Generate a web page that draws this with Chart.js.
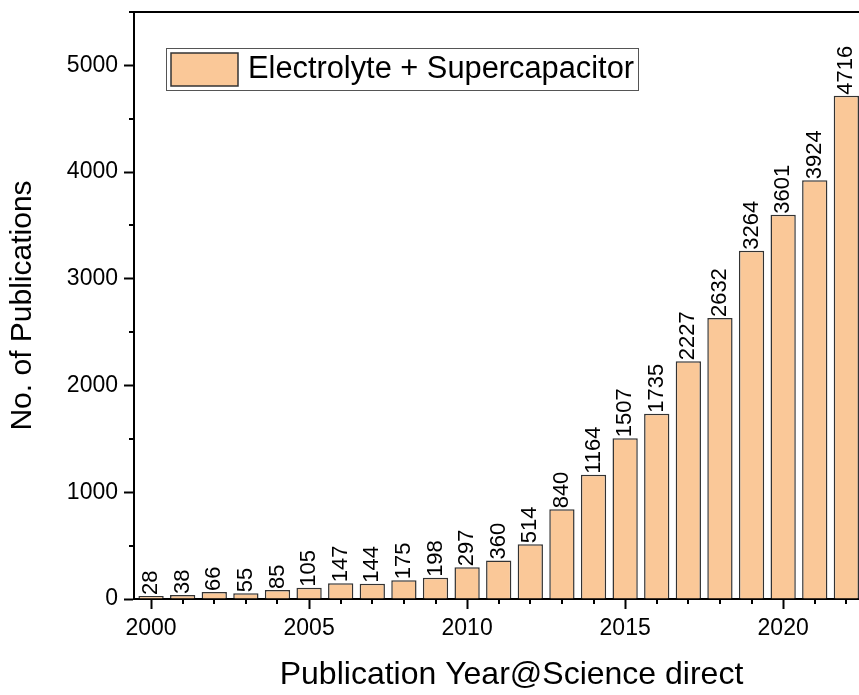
<!DOCTYPE html>
<html><head><meta charset="utf-8">
<script src="https://cdn.jsdelivr.net/npm/chart.js@4.4.1/dist/chart.umd.min.js"></script>
<style>html,body{margin:0;padding:0;overflow:hidden;background:#fff}canvas{display:block}</style>
</head><body>
<canvas id="c" width="859" height="695"></canvas>
<script>
const years = [2000,2001,2002,2003,2004,2005,2006,2007,2008,2009,2010,2011,2012,2013,2014,2015,2016,2017,2018,2019,2020,2021,2022];
const publications = [28,38,66,55,85,105,147,144,175,198,297,360,514,840,1164,1507,1735,2227,2632,3264,3601,3924,4716];
const seriesLabel = 'Electrolyte + Supercapacitor';
const xTitle = 'Publication Year@Science direct';
const yTitle = 'No. of Publications';
const xTickLabels = [2000,2005,2010,2015,2020];
const yTickLabels = [0,1000,2000,3000,4000,5000];

const FONT = '"Liberation Sans", Arial, sans-serif';
const BAR_FILL = '#FAC898';
const BAR_EDGE = '#333333';
Chart.defaults.font.family = FONT;
Chart.defaults.color = '#000';

const frameAndTicks = {
  id: 'frameAndTicks',
  afterDraw(chart) {
    const ctx = chart.ctx, a = chart.chartArea, xs = chart.scales.x, ys = chart.scales.y;
    ctx.save();
    ctx.strokeStyle = '#000';
    ctx.lineWidth = 2;
    ctx.beginPath();
    ctx.moveTo(a.left - 1, Math.round(a.top));
    ctx.lineTo(chart.width, Math.round(a.top));
    ctx.stroke();
    ctx.beginPath();
    xs.ticks.forEach(t => {
      if (!xTickLabels.includes(t.value)) {
        const px = Math.round(xs.getPixelForValue(t.value));
        ctx.moveTo(px, a.bottom); ctx.lineTo(px, a.bottom + 5);
      }
    });
    ys.ticks.forEach(t => {
      if (!yTickLabels.includes(t.value)) {
        const py = Math.round(ys.getPixelForValue(t.value));
        ctx.moveTo(a.left, py); ctx.lineTo(a.left - 5, py);
      }
    });
    ctx.stroke();

    // x axis title (the original plot frame continues beyond the crop, so its centre sits right of this area's centre)
    ctx.fillStyle = '#000';
    ctx.font = '32px ' + FONT;
    ctx.textAlign = 'center';
    ctx.textBaseline = 'middle';
    ctx.fillText(xTitle, (a.left + a.right) / 2 + 15, 675);

    // legend
    const fx = a.left + 32, fy = a.top + 36, fh = 42;
    ctx.font = '30.8px ' + FONT;
    const tw = ctx.measureText(seriesLabel).width;
    const sw = 67, sh = 33;
    const fw = 5 + sw + 10 + tw + 4;
    ctx.lineWidth = 1;
    ctx.strokeStyle = '#555';
    ctx.strokeRect(Math.round(fx) + 0.5, Math.round(fy) + 0.5, Math.round(fw), fh);
    ctx.fillStyle = BAR_FILL;
    ctx.fillRect(fx + 5, fy + 5, sw, sh);
    ctx.lineWidth = 1.5;
    ctx.strokeStyle = BAR_EDGE;
    ctx.strokeRect(fx + 5, fy + 5, sw, sh);
    ctx.fillStyle = '#000';
    ctx.textAlign = 'left';
    ctx.textBaseline = 'middle';
    ctx.fillText(seriesLabel, fx + 5 + sw + 10, fy + fh / 2 + 1);
    ctx.restore();
  },
  afterDatasetsDraw(chart) {
    const ctx = chart.ctx;
    const meta = chart.getDatasetMeta(0);
    ctx.save();
    ctx.font = '22px ' + FONT;
    ctx.fillStyle = '#000';
    ctx.textAlign = 'left';
    ctx.textBaseline = 'middle';
    meta.data.forEach((bar, i) => {
      ctx.save();
      ctx.translate(bar.x, bar.y - 1);
      ctx.rotate(-Math.PI / 2);
      ctx.fillText(String(publications[i]), 0, 0);
      ctx.restore();
    });
    ctx.restore();
  }
};

new Chart(document.getElementById('c'), {
  type: 'bar',
  data: {
    datasets: [{
      label: seriesLabel,
      data: years.map((y, i) => ({x: y, y: publications[i]})),
      backgroundColor: BAR_FILL,
      borderColor: BAR_EDGE,
      borderWidth: 1.5,
      barPercentage: 0.8,
      categoryPercentage: 1.0
    }]
  },
  options: {
    responsive: false,
    maintainAspectRatio: false,
    animation: false,
    devicePixelRatio: 1,
    layout: {padding: {top: 12, left: 0, right: 0, bottom: 0}},
    plugins: {legend: {display: false}, tooltip: {enabled: false}},
    scales: {
      x: {
        type: 'linear',
        offset: false,
        min: 1999.46,
        max: 2022.40,
        grid: {offset: false, drawOnChartArea: false, tickLength: 10, tickWidth: 2,
          tickColor: c => (c.tick && xTickLabels.includes(c.tick.value)) ? '#000' : 'rgba(0,0,0,0)'},
        border: {color: '#000', width: 2},
        ticks: {stepSize: 1, includeBounds: false, autoSkip: false, minRotation: 0, maxRotation: 0,
          padding: 6, font: {size: 23}, color: '#000',
          callback: v => xTickLabels.includes(v) ? String(v) : ''},
        title: {display: false, text: xTitle},
        afterFit: s => { s.height = 96; s.paddingLeft = 0; s.paddingRight = 0; }
      },
      y: {
        min: 0,
        max: 5500,
        grid: {drawOnChartArea: false, tickLength: 10, tickWidth: 2,
          tickColor: c => (c.tick && yTickLabels.includes(c.tick.value)) ? '#000' : 'rgba(0,0,0,0)'},
        border: {color: '#000', width: 2},
        ticks: {stepSize: 500, includeBounds: false, autoSkip: false, padding: 6, font: {size: 23}, color: '#000',
          callback: v => yTickLabels.includes(v) ? String(v) : ''},
        title: {display: true, text: yTitle, font: {size: 30, lineHeight: 1.2}, color: '#000', padding: {top: 5, bottom: 0}},
        afterFit: s => { s.width = 134; s.paddingTop = 0; s.paddingBottom = 0; }
      }
    }
  },
  plugins: [frameAndTicks]
});
</script>
</body></html>
